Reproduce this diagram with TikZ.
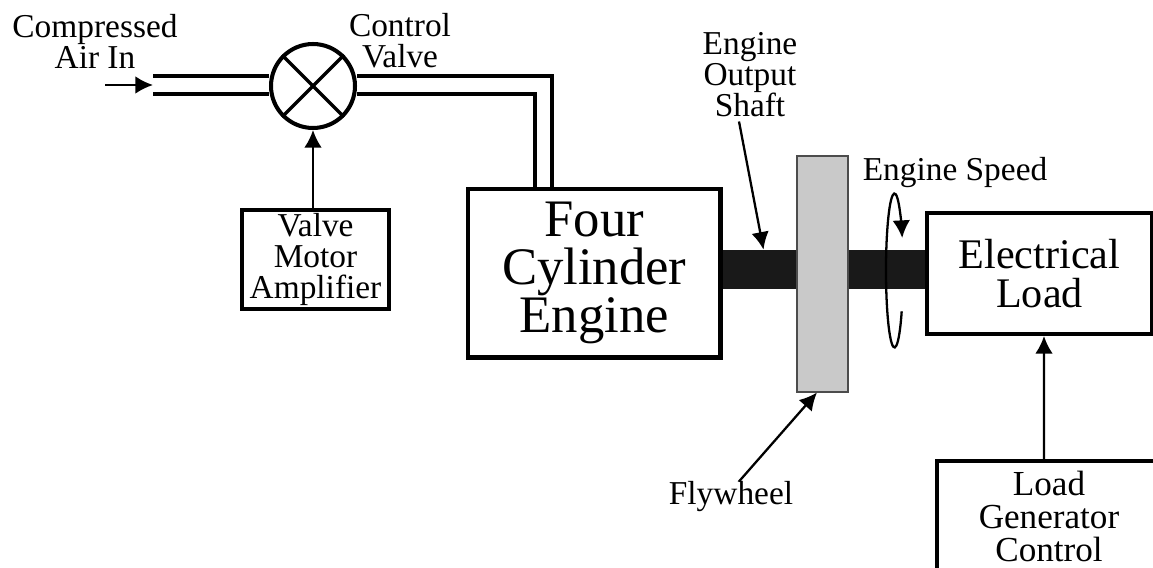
\documentclass[tikz,border=0pt]{standalone}
\usepackage{fontspec}
\setmainfont{Liberation Serif}
\usetikzlibrary{arrows.meta}
\tikzset{
  blockbox/.style={draw, line width=2.3pt, fill=white, inner sep=0pt, align=center},
  labeltext/.style={inner sep=0pt, align=center, font=\fontsize{19}{17.6}\selectfont},
  pipeline/.style={line width=2.3pt},
  pointer/.style={line width=1.3pt, ->}
}
\begin{document}
\begin{tikzpicture}[x=0.02cm, y=0.02cm, >={Latex[length=10pt,width=10pt]}]

        % Page frame, the load box runs off it
        \useasboundingbox (0,0) rectangle (1153,568);
        \clip (0,0) rectangle (1153,568);

        % Shaft and flywheel
        \node[fill=black!90, minimum width=4.18cm, minimum height=0.78cm, inner sep=0pt] (shaft) at (824.5,298.5) {};
        \node[draw=black!70, fill=black!21, line width=0.6pt, minimum width=1.02cm, minimum height=4.72cm, inner sep=0pt] (flywheel) at (822.5,294) {};

        % Blocks
        \node[blockbox, minimum width=2.94cm, minimum height=1.98cm, font=\fontsize{19}{17.6}\selectfont] (amp) at (315.5,308.5) {Valve\\Motor\\Amplifier};
        \node[blockbox, minimum width=5.05cm, minimum height=3.37cm, font=\fontsize{30}{27.3}\selectfont] (engine) at (594.25,294.75) {Four\\Cylinder\\Engine};
        \node[blockbox, minimum width=4.5cm, minimum height=2.42cm, font=\fontsize{24}{22.2}\selectfont] (elec) at (1039.5,294.5) {Electrical\\Load};
        \node[blockbox, minimum width=4.48cm, minimum height=2.22cm, font=\fontsize{20}{19}\selectfont] (load) at (1049,51.5) {Load\\Generator\\Control};

        % Control valve
        \node[draw, circle, line width=2.3pt, fill=white, minimum size=1.68cm, inner sep=0pt] (valve) at (313,482) {};
        \foreach \angle in {45,135,225,315} {
          \draw[line width=2pt] (valve.center) -- (valve.\angle);
        }

        % Pipes
        \coordinate (pipetop) at (153,492);
        \coordinate (pipelow) at (153,474);
        \draw[pipeline] (pipetop) -- (pipetop -| valve.west);
        \draw[pipeline] (pipelow) -- (pipelow -| valve.west);
        \draw[pipeline] (valve.east |- pipetop) -- (552,492) -- (552,379);
        \draw[pipeline] (valve.east |- pipelow) -- (535,474) -- (535,379);

        % Labels
        \node[labeltext] (airlabel) at (95,527) {Compressed\\Air In};
        \node[labeltext] (valvelabel) at (400,527) {Control\\Valve};
        \node[labeltext] (shaftlabel) at (750,493) {Engine\\Output\\Shaft};
        \node[labeltext] (speedlabel) at (955,395) {Engine Speed};
        \node[labeltext] (flylabel) at (731,71) {Flywheel};

        % Arrows
        \coordinate (airstart) at (105,483);
        \coordinate (airend) at (153,483);
        \draw[pointer] (airstart) -- (airend);
        \draw[pointer] (amp.north -| valve.south) -- (valve.south);
        \draw[pointer] ([xshift=-0.1cm]load.north) -- ([xshift=0.09cm]elec.south);
        \draw[pointer] ([xshift=-0.22cm,yshift=-0.08cm]shaftlabel.south) -- ([xshift=-1.22cm]shaft.north);
        \draw[pointer] ([xshift=0.16cm]flylabel.north) -- ([xshift=-0.11cm]flywheel.south);

        % Rotation of the shaft
        \draw[pointer] (901.7,256.7) arc[start angle=-32, end angle=-335, x radius=8.5, y radius=77];

      \end{tikzpicture}
\end{document}
